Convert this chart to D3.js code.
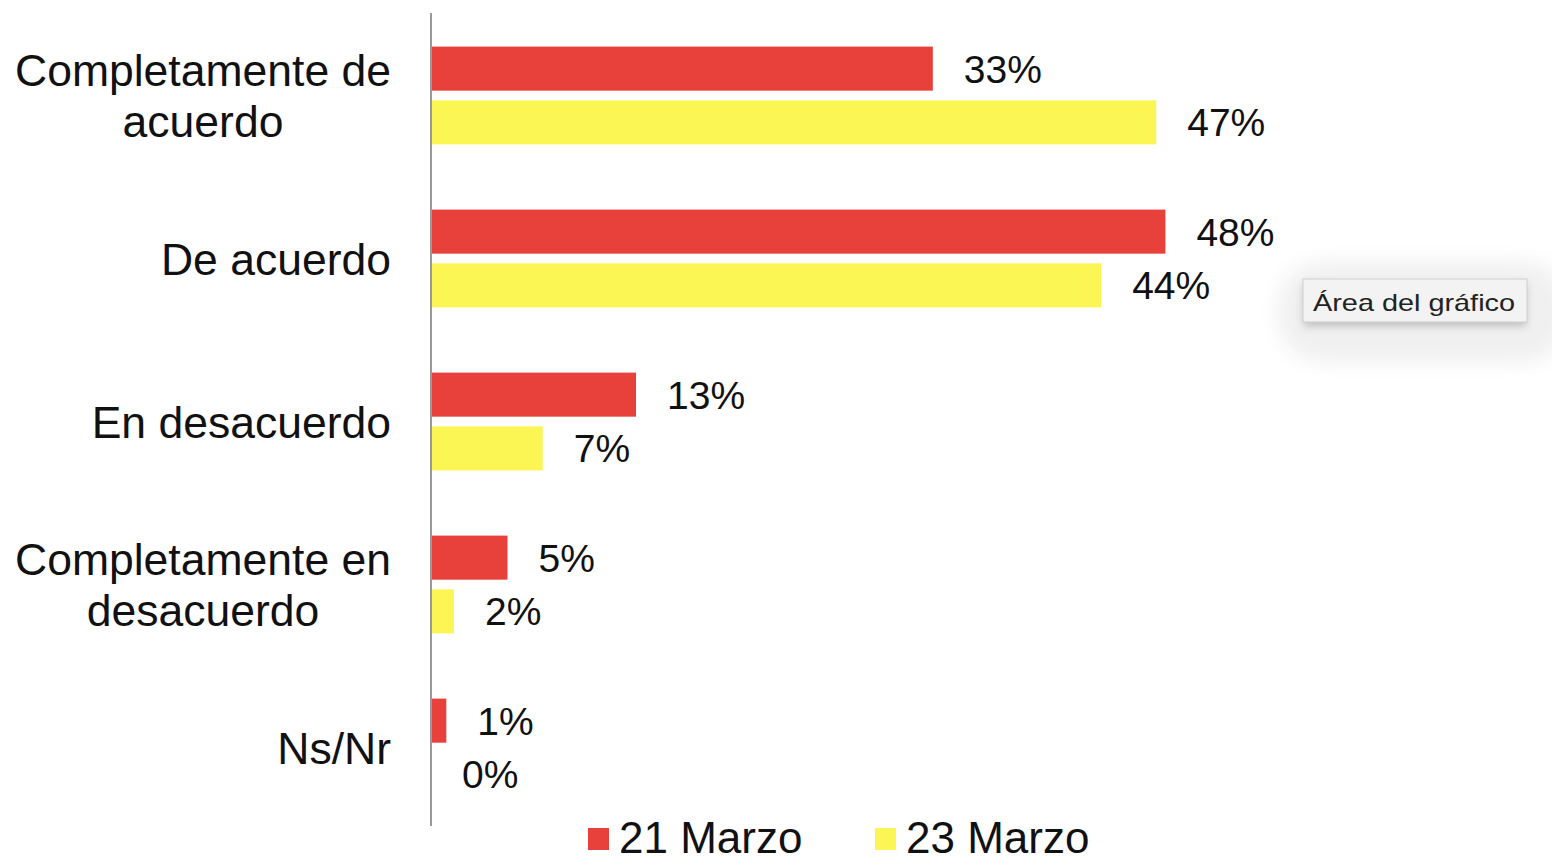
<!DOCTYPE html>
<html>
<head>
<meta charset="utf-8">
<script src="https://cdn.jsdelivr.net/npm/d3@7"></script>
<style>
html,body{margin:0;padding:0;background:#fff;}
svg{display:block;font-family:"Liberation Sans",Arial,Helvetica,sans-serif;}
</style>
</head>
<body>
<svg id="chart" width="1552" height="864"></svg>
<script>
const categories = [
  ["Completamente de", "acuerdo"],
  ["De acuerdo"],
  ["En desacuerdo"],
  ["Completamente en", "desacuerdo"],
  ["Ns/Nr"]
];
const seriesNames = ["21 Marzo", "23 Marzo"];
const seriesColors = ["#e8403a", "#fbf653"];
const marzo21 = [32.8, 48.0, 13.4, 5.0, 1.0];
const marzo23 = [47.4, 43.8, 7.3, 1.5, 0];
const series = [marzo21, marzo23];

const svg = d3.select("#chart");
const axisX = 431;

const x = d3.scaleLinear().domain([0, 50]).range([axisX, axisX + 765]);
const y = d3.scaleBand().domain(d3.range(categories.length)).range([14, 829])
  .paddingInner(0.4).paddingOuter(0.2);
const ySub = d3.scaleBand().domain(d3.range(series.length)).range([0, y.bandwidth()])
  .paddingInner(0.18);

// Tooltip glow (behind everything)
const defs = svg.append("defs");
defs.append("filter").attr("id", "glow").attr("x", "-50%").attr("y", "-50%")
  .attr("width", "200%").attr("height", "200%")
  .append("feGaussianBlur").attr("stdDeviation", 10);
defs.append("filter").attr("id", "shadow").attr("x", "-20%").attr("y", "-20%")
  .attr("width", "140%").attr("height", "180%")
  .append("feGaussianBlur").attr("stdDeviation", 4);
svg.append("rect").attr("x", 1278).attr("y", 262).attr("width", 290).attr("height", 100)
  .attr("rx", 45).attr("fill", "#f0f0f0").attr("filter", "url(#glow)");

// Bars
series.forEach((vals, s) => {
  svg.append("g").selectAll("rect").data(vals).join("rect")
    .attr("x", x(0))
    .attr("y", (d, i) => y(i) + ySub(s))
    .attr("width", d => x(d) - x(0))
    .attr("height", ySub.bandwidth())
    .attr("fill", seriesColors[s]);
  svg.append("g").selectAll("text").data(vals).join("text")
    .attr("x", d => x(d) + 31)
    .attr("y", (d, i) => y(i) + ySub(s) + ySub.bandwidth() / 2 + 14)
    .attr("font-size", 39)
    .attr("fill", "#111")
    .text(d => Math.round(d) + "%");
});

// Axis line
svg.append("line").attr("x1", axisX).attr("x2", axisX)
  .attr("y1", 13).attr("y2", 826)
  .attr("stroke", "#9a9a9a").attr("stroke-width", 2);

// Category labels
const rightEdge = 391;
const lineH = 51;
categories.forEach((lines, i) => {
  const cy = y(i) + y.bandwidth() / 2;
  const g = svg.append("g");
  const texts = lines.map((ln, j) => g.append("text")
    .attr("font-size", 44.5).attr("fill", "#111")
    .attr("y", cy + (j - (lines.length - 1) / 2) * lineH + 16)
    .attr("text-anchor", "middle")
    .text(ln));
  const maxW = d3.max(texts, t => t.node().getComputedTextLength());
  texts.forEach(t => t.attr("x", rightEdge - maxW / 2));
});

// Legend
const legendX = [588, 875];
seriesNames.forEach((name, s) => {
  svg.append("rect").attr("x", legendX[s]).attr("y", 828)
    .attr("width", 21).attr("height", 22).attr("fill", seriesColors[s]);
  svg.append("text").attr("x", legendX[s] + 31).attr("y", 853)
    .attr("font-size", 44).attr("fill", "#111").text(name);
});

// Tooltip "Área del gráfico"
svg.append("rect").attr("x", 1304).attr("y", 284).attr("width", 222).attr("height", 42)
  .attr("fill", "#bdbdbd").attr("filter", "url(#shadow)");
svg.append("rect").attr("x", 1303).attr("y", 279).attr("width", 224).attr("height", 43)
  .attr("fill", "#f3f3f3").attr("stroke", "#cfcfcf").attr("stroke-width", 1);
svg.append("text").attr("x", 1313).attr("y", 311).attr("font-size", 24)
  .attr("textLength", 202).attr("lengthAdjust", "spacingAndGlyphs")
  .attr("fill", "#222").text("Área del gráfico");
</script>
</body>
</html>
